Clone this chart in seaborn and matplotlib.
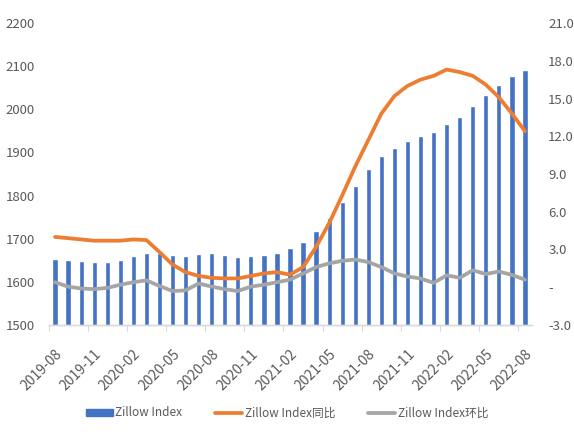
import numpy as np
import pandas as pd
import matplotlib
matplotlib.use("Agg")
import matplotlib.pyplot as plt
import seaborn as sns
from matplotlib.patches import Patch
from matplotlib.lines import Line2D
from matplotlib.ticker import FixedLocator, FuncFormatter

# ---- data ----
months = [str(p) for p in pd.period_range("2019-08", "2022-08", freq="M")]
label_months = months[::3]

zillow_index = [1652, 1650, 1649, 1647, 1647, 1650, 1659, 1666, 1666, 1662,
                1659, 1664, 1666, 1663, 1658, 1661, 1663, 1667, 1678, 1693,
                1717, 1748, 1784, 1822, 1861, 1891, 1911, 1926, 1938, 1947,
                1965, 1981, 2008, 2032, 2056, 2076, 2090]
yoy = [4.0, 3.9, 3.8, 3.7, 3.7, 3.7, 3.8, 3.75, 2.8, 1.8,
       1.2, 0.9, 0.75, 0.7, 0.7, 0.9, 1.1, 1.2, 1.0, 1.6,
       3.2, 5.1, 7.3, 9.6, 11.7, 13.8, 15.2, 16.0, 16.5, 16.8,
       17.3, 17.1, 16.8, 16.1, 15.1, 13.8, 12.4]
mom = [0.4, 0.05, -0.1, -0.15, -0.05, 0.2, 0.4, 0.55, 0.1, -0.3,
       -0.25, 0.3, 0.05, -0.15, -0.3, 0.05, 0.2, 0.4, 0.6, 1.1,
       1.6, 1.9, 2.1, 2.2, 2.0, 1.6, 1.1, 0.85, 0.7, 0.35,
       0.95, 0.75, 1.35, 1.05, 1.25, 0.98, 0.6]

series_names = ["Zillow Index", "Zillow Index同比", "Zillow Index环比"]
left_ticks = [1500, 1600, 1700, 1800, 1900, 2000, 2100, 2200]
right_ticks = [-3, 0, 3, 6, 9, 12, 15, 18, 21]

BLUE = "#4472C4"
ORANGE = "#ED7D31"
GRAY = "#A5A5A5"
TXT = "#595959"

sns.set_theme(style="white")
plt.rcParams["font.family"] = ["Noto Sans CJK SC", "DejaVu Sans"]

df = pd.DataFrame({"month": months, "index": zillow_index,
                   "yoy": yoy, "mom": mom, "pos": np.arange(len(months))})

fig = plt.figure(figsize=(5.74, 4.32), dpi=100)
ax = fig.add_axes([48.5 / 574, 1 - 325 / 432, (531.5 - 48.5) / 574, (325 - 23) / 432])

sns.barplot(data=df, x="month", y="index", order=months, color=BLUE,
            saturation=1, width=0.4, ax=ax)
ax.set_xlim(-0.5, len(months) - 0.5)
ax.set_ylim(1500, 2200)
ax.set_yticks(left_ticks)
ax.set_yticklabels([str(v) for v in left_ticks])
ax.set_xlabel("")
ax.set_ylabel("")

ax2 = ax.twinx()
sns.lineplot(data=df, x="pos", y="yoy", color=ORANGE, linewidth=2.7, ax=ax2,
             solid_capstyle="round", solid_joinstyle="round")
sns.lineplot(data=df, x="pos", y="mom", color=GRAY, linewidth=2.7, ax=ax2,
             solid_capstyle="round", solid_joinstyle="round")
ax2.set_ylim(-3, 21)
ax2.set_yticks(right_ticks)
ax2.yaxis.set_major_formatter(FuncFormatter(lambda v, p: "-" if abs(v) < 1e-9 else f"{v:.1f}"))
ax2.set_xlim(-0.5, len(months) - 0.5)
ax2.set_xlabel("")
ax2.set_ylabel("")

# x ticks: labels every 3 months, tick marks at category boundaries
label_pos = [months.index(m) for m in label_months]
ax.xaxis.set_major_locator(FixedLocator(label_pos))
ax.set_xticklabels(label_months, rotation=45, ha="right", rotation_mode="anchor")
ax.xaxis.set_minor_locator(FixedLocator([p - 0.5 for p in label_pos]))
ax.tick_params(axis="x", which="major", length=0, pad=16, labelsize=10, labelcolor=TXT)
ax.tick_params(axis="x", which="minor", length=4, width=0.8, color="#D9D9D9", bottom=True)
ax.tick_params(axis="y", length=0, labelsize=9.5, labelcolor=TXT, pad=10)
ax2.tick_params(axis="y", length=0, labelsize=9.5, labelcolor=TXT, pad=12)

for a in (ax, ax2):
    for s in ("top", "left", "right"):
        a.spines[s].set_visible(False)
    a.spines["bottom"].set_color("#D9D9D9")
    a.spines["bottom"].set_linewidth(1.0)
    a.grid(False)
    a.patch.set_visible(False)

handles = [
    Patch(facecolor=BLUE, edgecolor=BLUE),
    Line2D([0], [0], color=ORANGE, linewidth=2.7),
    Line2D([0], [0], color=GRAY, linewidth=2.7),
]
fig.legend(handles, series_names, loc="center", bbox_to_anchor=(0.5, 1 - 413 / 432),
           ncol=3, frameon=False, fontsize=8.5, labelcolor=TXT,
           handlelength=2.3, handleheight=0.6, handletextpad=0.2, columnspacing=2.8)

fig.savefig("out.png", dpi=100)
